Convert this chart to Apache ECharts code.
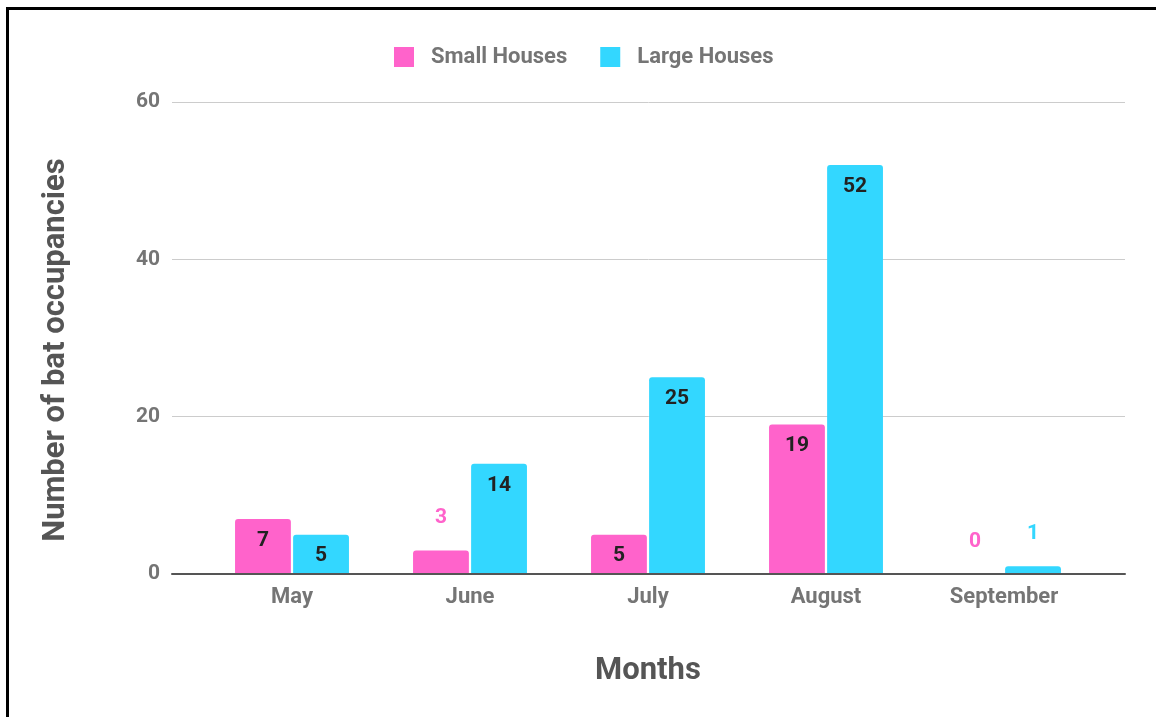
<!DOCTYPE html>
<html>
<head>
<meta charset="utf-8">
<script src="https://cdn.jsdelivr.net/npm/echarts@6/dist/echarts.min.js"></script>
<style>
  html, body { margin: 0; padding: 0; background: #fff; }
  .frame {
    position: absolute;
    left: 6px;
    top: 7px;
    width: 1150px;
    height: 710px;
    border-top: solid 3px #000;
    border-left: solid 3px #000;
    box-sizing: border-box;
  }
  #chart { position: absolute; left: 0; top: 0; width: 1156px; height: 717px; }
</style>
</head>
<body>
<div class="frame"></div>
<div id="chart"></div>
<script>
const months = ['May', 'June', 'July', 'August', 'September']
const smallHouses = [7, 3, 5, 19, 0]
const largeHouses = [5, 14, 25, 52, 1]
const yTicks = { min: 0, max: 60, interval: 20 }

const PINK = '#ff63cb'
const CYAN = '#33d7ff'
const GREY = '#757575'

// 低于阈值的柱子把标签放在柱顶外面
const labelFor = (value, color) => {
  if (value >= 5) {
    return {
      show: true,
      position: 'insideTop',
      distance: 11,
      color: '#222',
      fontSize: 21,
      fontWeight: 'bold',
      fontFamily: 'Roboto'
    }
  }
  return {
    show: true,
    position: 'top',
    distance: 22,
    color: color,
    fontSize: 21,
    fontWeight: 'bold',
    fontFamily: 'Roboto'
  }
}

const barData = (values, color) => values.map(v => ({ value: v, label: labelFor(v, color) }))

const option = {
  animation: false,
  textStyle: { fontFamily: 'Roboto' },
  legend: {
    top: 41,
    left: 389,
    itemWidth: 20,
    itemHeight: 20,
    itemGap: 33,
    icon: 'rect',
    textStyle: { color: GREY, fontSize: 22, fontWeight: 'bold', fontFamily: 'Roboto', padding: [0, 0, 0, 12] },
    data: ['Small Houses', 'Large Houses']
  },
  grid: [
    { left: 203, right: 63, top: 102, bottom: 143 },
    { left: 172, right: 31, top: 102, bottom: 143 }
  ],
  xAxis: [
    {
      type: 'category',
      gridIndex: 0,
      data: months,
      axisLine: { show: false },
      axisTick: { show: false },
      axisLabel: { color: GREY, fontSize: 22, fontWeight: 'bold', margin: 12 },
      name: 'Months',
      nameLocation: 'middle',
      nameGap: 82,
      nameTextStyle: { color: '#555', fontSize: 31, fontWeight: 'bold' }
    },
    {
      type: 'value',
      gridIndex: 1,
      min: 0,
      max: 1,
      axisLine: { show: true, onZero: false, lineStyle: { color: '#555', width: 2 } },
      axisTick: { show: false },
      axisLabel: { show: false },
      splitLine: { show: false },
      z: 10
    }
  ],
  yAxis: [
    {
      type: 'value',
      gridIndex: 0,
      ...yTicks,
      show: false,
      splitLine: { show: false }
    },
    {
      type: 'value',
      gridIndex: 1,
      ...yTicks,
      axisLine: { show: false },
      axisTick: { show: false },
      axisLabel: { color: GREY, fontSize: 21, fontWeight: 'bold', margin: 12 },
      splitLine: { lineStyle: { color: '#cccccc', width: 1 } },
      name: 'Number of bat occupancies',
      nameLocation: 'middle',
      nameGap: 100,
      nameTextStyle: { color: '#555', fontSize: 31, fontWeight: 'bold', padding: [0, 24, 0, 0] }
    }
  ],
  series: [
    {
      name: 'Small Houses',
      type: 'bar',
      xAxisIndex: 0,
      yAxisIndex: 0,
      barCategoryGap: '36%',
      barGap: '4%',
      itemStyle: { color: PINK, borderRadius: [3, 3, 0, 0] },
      data: barData(smallHouses, PINK)
    },
    {
      name: 'Large Houses',
      type: 'bar',
      xAxisIndex: 0,
      yAxisIndex: 0,
      barCategoryGap: '36%',
      barGap: '4%',
      itemStyle: { color: CYAN, borderRadius: [3, 3, 0, 0] },
      data: barData(largeHouses, CYAN)
    }
  ]
}

const chart = echarts.init(document.getElementById('chart'))
chart.setOption(option)
</script>
</body>
</html>
